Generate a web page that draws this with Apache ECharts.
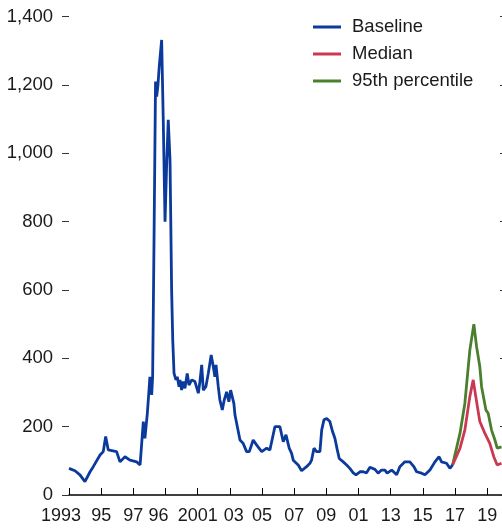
<!DOCTYPE html>
<html><head><meta charset="utf-8">
<script src="https://cdn.jsdelivr.net/npm/echarts@6/dist/echarts.min.js"></script>
<style>html,body{margin:0;padding:0;background:#fff}#c{width:502px;height:529px}</style>
</head><body><div id="c"></div>
<script>
const xLabels = ['1993','95','97','96','2001','03','05','07','09','01','13','15','17','19'];
const startYear = 1993;
const baselineYears = [1993.00,1993.37,1993.68,1993.99,1994.31,1994.51,1994.93,1995.13,1995.28,1995.44,1995.96,1996.17,1996.48,1996.79,1997.21,1997.42,1997.52,1997.62,1997.72,1997.87,1997.93,1998.03,1998.14,1998.20,1998.28,1998.38,1998.45,1998.53,1998.61,1998.76,1998.86,1998.97,1999.06,1999.17,1999.28,1999.38,1999.45,1999.53,1999.65,1999.73,1999.84,1999.90,2000.00,2000.10,2000.21,2000.35,2000.46,2000.63,2000.83,2001.04,2001.14,2001.25,2001.35,2001.51,2001.66,2001.76,2001.84,2001.97,2002.07,2002.14,2002.28,2002.38,2002.53,2002.65,2002.80,2002.94,2003.05,2003.15,2003.25,2003.32,2003.42,2003.63,2003.83,2004.04,2004.21,2004.45,2004.67,2004.98,2005.29,2005.49,2005.60,2005.80,2005.91,2006.11,2006.32,2006.49,2006.69,2006.84,2006.94,2007.25,2007.46,2007.77,2007.98,2008.08,2008.23,2008.39,2008.60,2008.71,2008.85,2009.02,2009.22,2009.39,2009.53,2009.68,2009.80,2010.05,2010.26,2010.46,2010.67,2010.84,2011.09,2011.29,2011.50,2011.71,2012.02,2012.22,2012.43,2012.64,2012.78,2013.06,2013.37,2013.57,2013.88,2014.19,2014.44,2014.61,2014.92,2015.13,2015.44,2015.75,2016.01,2016.16,2016.47,2016.68,2016.85];
const baselineValues = [78,71,59,39,68,83,117,127,171,132,127,97,112,102,97,88,88,215,166,239,278,346,293,346,717,1210,1166,1200,1254,1332,1098,800,950,1098,981,600,454,356,337,346,317,337,307,332,312,356,322,337,332,298,332,381,307,317,356,386,410,376,346,381,317,278,249,278,302,273,307,312,268,234,234,161,151,127,127,161,146,127,137,132,156,200,205,200,156,176,137,122,102,88,71,83,93,102,137,127,127,190,220,224,215,185,166,132,107,97,88,78,65,59,68,68,65,81,75,64,73,73,64,73,59,83,97,97,83,68,64,59,73,97,112,97,93,78,88];
const medianYears = [2016.85,2017.31,2017.61,2017.92,2018.13,2018.29,2018.54,2018.85,2019.16,2019.41,2019.62,2019.89];
const medianValues = [88,137,190,288,337,288,215,181,151,112,88,93];
const p95Years = [2016.85,2017.31,2017.61,2017.92,2018.17,2018.34,2018.54,2018.65,2018.92,2019.06,2019.27,2019.48,2019.62,2019.89];
const p95Values = [88,181,268,424,500,434,376,317,249,239,190,161,137,141];

const pairs = (ys, vs) => ys.map((y, i) => [y - startYear, vs[i]]);
const FONT = "'Liberation Sans','Arial',sans-serif";
const FS = 18;
const TXT = '#1a1a1a';
// label nudges (style only): shift some labels horizontally as in the source
const labelShift = {0: 'L16', 3: 'L14', 5: 'R8'};
const richBase = {fontFamily: FONT, fontSize: FS, color: TXT};
const rich = {
  n: Object.assign({}, richBase),
  L16: Object.assign({}, richBase, {padding: [0, 16, 0, 0]}),
  L14: Object.assign({}, richBase, {padding: [0, 14, 0, 0]}),
  R8: Object.assign({}, richBase, {padding: [0, 0, 0, 8]})
};
const chart = echarts.init(document.getElementById('c'), null, {renderer: 'canvas'});
const yCommon = {type: 'value', min: 0, max: 1400, interval: 200, splitLine: {show: false}, axisLine: {show: false}};
chart.setOption({
  animation: false,
  grid: {left: 69, right: 0, top: 16.7, bottom: 34, containLabel: false},
  legend: {
    orient: 'vertical', left: 313, top: 17, padding: 0, itemWidth: 28, itemHeight: 3, itemGap: 7,
    icon: 'rect',
    textStyle: {fontFamily: FONT, fontSize: 18.5, color: TXT, padding: [0, 0, 0, 6], lineHeight: 20},
    data: ['Baseline', 'Median', '95th percentile']
  },
  xAxis: {
    type: 'value', min: 0, max: 26.92, interval: 2,
    axisLine: {lineStyle: {color: '#000', width: 1.5}},
    axisTick: {show: true, inside: true, length: 7, lineStyle: {color: '#000', width: 1}},
    axisLabel: {fontFamily: FONT, fontSize: FS, color: TXT, margin: 12, showMaxLabel: false, showMinLabel: true,
      hideOverlap: false, rich: rich,
      formatter: v => {
        const i = Math.round(v / 2);
        const t = xLabels[i];
        if (t === undefined) return '';
        return '{' + (labelShift[i] || 'n') + '|' + t + '}';
      }},
    splitLine: {show: false}
  },
  yAxis: [
    Object.assign({}, yCommon, {position: 'left',
      axisTick: {show: true, inside: false, length: 7, lineStyle: {color: '#333', width: 1}},
      axisLabel: {fontFamily: FONT, fontSize: 18.5, color: TXT, margin: 16,
        formatter: v => v.toLocaleString('en-US')}}),
    Object.assign({}, yCommon, {position: 'right', offset: -2,
      axisTick: {show: true, inside: false, length: 7, lineStyle: {color: '#333', width: 1}},
      axisLabel: {show: false}})
  ],
  series: [
    {name: 'Baseline', type: 'line', data: pairs(baselineYears, baselineValues), showSymbol: false, symbol: 'none',
      lineStyle: {color: '#0b3a9c', width: 2.8}, itemStyle: {color: '#0b3a9c'}, z: 3},
    {name: 'Median', type: 'line', data: pairs(medianYears, medianValues), showSymbol: false, symbol: 'none',
      lineStyle: {color: '#c93a52', width: 2.8}, itemStyle: {color: '#c93a52'}, z: 2},
    {name: '95th percentile', type: 'line', data: pairs(p95Years, p95Values), showSymbol: false, symbol: 'none',
      lineStyle: {color: '#4a7f2e', width: 2.8}, itemStyle: {color: '#4a7f2e'}, z: 1}
  ]
});
</script></body></html>
